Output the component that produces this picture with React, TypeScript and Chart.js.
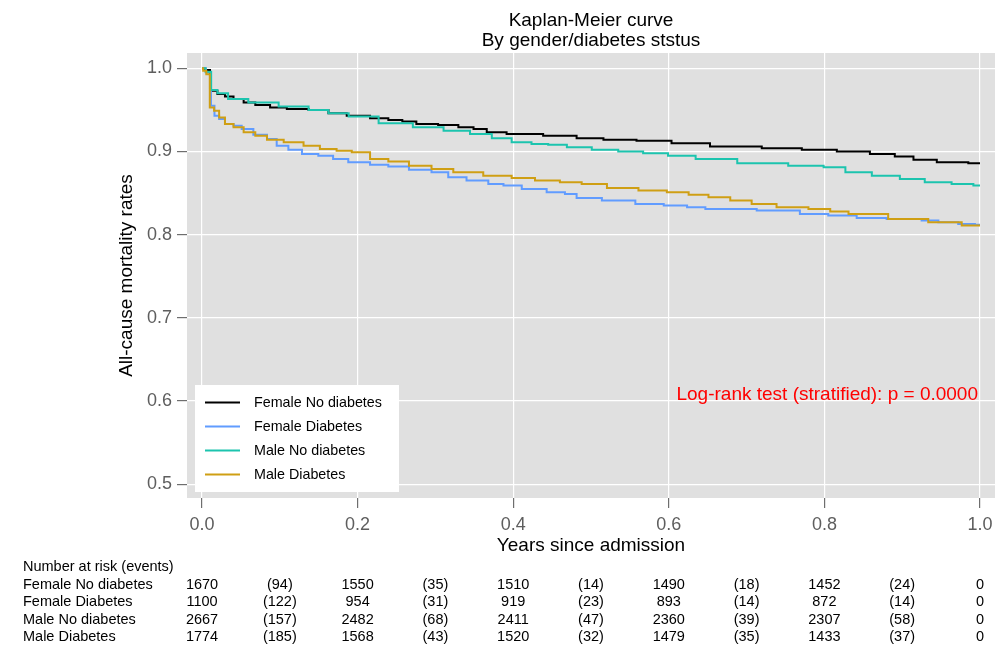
import React, { useEffect, useRef } from "react";
import { Chart, registerables } from "chart.js";

Chart.register(...registerables);

const FONT = "'Liberation Sans', Arial, Helvetica, sans-serif";

// ---- Survival curves (time in years, survival probability) ----
const femaleNoDiabetesTime = [0, 0.006, 0.0145, 0.025, 0.034, 0.047, 0.06, 0.077, 0.098, 0.12, 0.154, 0.171, 0.201, 0.231, 0.248, 0.267, 0.284, 0.323, 0.336, 0.362, 0.37, 0.413, 0.464, 0.499, 0.533, 0.584, 0.623, 0.683, 0.756, 0.786, 0.846, 0.871, 0.91, 0.919, 0.97, 1.0];
const femaleNoDiabetesSurv = [1.0, 0.998, 0.973, 0.969, 0.966, 0.963, 0.959, 0.956, 0.953, 0.951, 0.95, 0.946, 0.943, 0.94, 0.938, 0.936, 0.933, 0.932, 0.929, 0.927, 0.923, 0.921, 0.919, 0.916, 0.914, 0.913, 0.91, 0.906, 0.904, 0.902, 0.9, 0.897, 0.894, 0.89, 0.887, 0.886];

const femaleDiabetesTime = [0, 0.01, 0.013, 0.019, 0.025, 0.034, 0.047, 0.055, 0.077, 0.09, 0.102, 0.12, 0.137, 0.162, 0.175, 0.201, 0.231, 0.248, 0.284, 0.306, 0.327, 0.353, 0.383, 0.392, 0.43, 0.456, 0.477, 0.486, 0.542, 0.572, 0.615, 0.632, 0.662, 0.764, 0.773, 0.837, 0.846, 0.914, 0.936, 0.957, 0.987, 1.0];
const femaleDiabetesSurv = [1.0, 0.995, 0.955, 0.943, 0.939, 0.933, 0.931, 0.927, 0.92, 0.915, 0.907, 0.902, 0.897, 0.895, 0.891, 0.887, 0.884, 0.882, 0.878, 0.875, 0.869, 0.865, 0.861, 0.859, 0.855, 0.851, 0.849, 0.844, 0.841, 0.837, 0.835, 0.833, 0.831, 0.829, 0.825, 0.823, 0.82, 0.819, 0.817, 0.815, 0.813, 0.812];

const maleNoDiabetesTime = [0, 0.009, 0.0145, 0.025, 0.042, 0.077, 0.12, 0.154, 0.171, 0.206, 0.248, 0.294, 0.327, 0.362, 0.383, 0.413, 0.434, 0.456, 0.482, 0.52, 0.55, 0.584, 0.614, 0.655, 0.721, 0.786, 0.812, 0.842, 0.88, 0.914, 0.944, 0.983, 1.0];
const maleNoDiabetesSurv = [1.0, 0.996, 0.974, 0.97, 0.963, 0.959, 0.954, 0.95, 0.946, 0.942, 0.934, 0.929, 0.925, 0.921, 0.916, 0.911, 0.909, 0.908, 0.905, 0.902, 0.9, 0.898, 0.895, 0.891, 0.886, 0.883, 0.881, 0.875, 0.871, 0.867, 0.863, 0.861, 0.859];

const maleDiabetesTime = [0, 0.003, 0.008, 0.012, 0.019, 0.025, 0.034, 0.047, 0.06, 0.077, 0.09, 0.12, 0.141, 0.162, 0.184, 0.201, 0.231, 0.248, 0.284, 0.306, 0.34, 0.383, 0.413, 0.443, 0.477, 0.499, 0.542, 0.58, 0.615, 0.636, 0.666, 0.692, 0.721, 0.756, 0.803, 0.812, 0.85, 0.914, 0.953, 1.0];
const maleDiabetesSurv = [1.0, 0.997, 0.993, 0.953, 0.949, 0.941, 0.933, 0.929, 0.923, 0.919, 0.914, 0.911, 0.907, 0.903, 0.901, 0.899, 0.891, 0.888, 0.883, 0.879, 0.875, 0.871, 0.868, 0.865, 0.863, 0.861, 0.856, 0.853, 0.851, 0.848, 0.845, 0.841, 0.837, 0.833, 0.831, 0.828, 0.825, 0.819, 0.815, 0.811];

const seriesNames = ["Female No diabetes", "Female Diabetes", "Male No diabetes", "Male Diabetes"];
const seriesColors = ["#000000", "#619CFF", "#1CC4AE", "#CF9F14"];

// ---- Axes ----
const xTicks = [0, 0.2, 0.4, 0.6, 0.8, 1.0];
const yTicks = [0.5, 0.6, 0.7, 0.8, 0.9, 1.0];
const xMin = -0.0193;
const xMax = 1.0193;
const yMin = 0.4835;
const yMax = 1.0184;

// ---- Number at risk table ----
const riskTimes = [0, 0.2, 0.4, 0.6, 0.8, 1.0];
const eventTimes = [0.1, 0.3, 0.5, 0.7, 0.9];
const femaleNoDiabetesRisk = [1670, 1550, 1510, 1490, 1452, 0];
const femaleNoDiabetesEvents = [94, 35, 14, 18, 24];
const femaleDiabetesRisk = [1100, 954, 919, 893, 872, 0];
const femaleDiabetesEvents = [122, 31, 23, 14, 14];
const maleNoDiabetesRisk = [2667, 2482, 2411, 2360, 2307, 0];
const maleNoDiabetesEvents = [157, 68, 47, 39, 58];
const maleDiabetesRisk = [1774, 1568, 1520, 1479, 1433, 0];
const maleDiabetesEvents = [185, 43, 32, 35, 37];

const titleLines = ["Kaplan-Meier curve", "By gender/diabetes ststus"];
const xTitle = "Years since admission";
const yTitle = "All-cause mortality rates";
const testLabel = "Log-rank test (stratified): p = 0.0000";
const riskHeader = "Number at risk (events)";

export default function App() {
  const ref = useRef<HTMLCanvasElement>(null);

  useEffect(() => {
    const canvas = ref.current;
    if (!canvas) return;

    const mk = (t: number[], s: number[]) => t.map((x, i) => ({ x, y: s[i] }));
    const curves = [
      mk(femaleNoDiabetesTime, femaleNoDiabetesSurv),
      mk(femaleDiabetesTime, femaleDiabetesSurv),
      mk(maleNoDiabetesTime, maleNoDiabetesSurv),
      mk(maleDiabetesTime, maleDiabetesSurv),
    ];
    const riskRows = [
      [femaleNoDiabetesRisk, femaleNoDiabetesEvents],
      [femaleDiabetesRisk, femaleDiabetesEvents],
      [maleNoDiabetesRisk, maleNoDiabetesEvents],
      [maleDiabetesRisk, maleDiabetesEvents],
    ];

    const bgPlugin = {
      id: "panelBg",
      beforeDraw(chart: any) {
        const { ctx, chartArea: a } = chart;
        ctx.save();
        ctx.fillStyle = "#E0E0E0";
        ctx.fillRect(a.left, a.top, a.right - a.left, a.bottom - a.top);
        ctx.restore();
      },
    };

    const overlayPlugin = {
      id: "overlay",
      afterDraw(chart: any) {
        const { ctx, chartArea: a } = chart;
        const xs = chart.scales.x;
        const cx = (a.left + a.right) / 2;
        const cy = (a.top + a.bottom) / 2;
        ctx.save();

        // Title
        ctx.fillStyle = "#000";
        ctx.font = `19px ${FONT}`;
        ctx.textAlign = "center";
        ctx.textBaseline = "alphabetic";
        ctx.fillText(titleLines[0], cx, 26);
        ctx.fillText(titleLines[1], cx, 45.5);

        // Axis titles
        ctx.fillText(xTitle, cx, 551);
        ctx.save();
        ctx.translate(132, cy);
        ctx.rotate(-Math.PI / 2);
        ctx.fillText(yTitle, 0, 0);
        ctx.restore();

        // Log-rank text
        ctx.fillStyle = "#FF0000";
        ctx.textAlign = "right";
        ctx.fillText(testLabel, 978, 400);

        // Legend
        ctx.fillStyle = "#FFFFFF";
        ctx.fillRect(195, 385, 204, 107);
        const rowsY = [402.5, 426.5, 450.5, 474.5];
        ctx.font = `14.3px ${FONT}`;
        ctx.textAlign = "left";
        ctx.textBaseline = "middle";
        seriesNames.forEach((n, i) => {
          ctx.strokeStyle = seriesColors[i];
          ctx.lineWidth = 2;
          ctx.beginPath();
          ctx.moveTo(205, rowsY[i]);
          ctx.lineTo(240, rowsY[i]);
          ctx.stroke();
          ctx.fillStyle = "#000";
          ctx.fillText(n, 254, rowsY[i] + 1);
        });

        // Risk table
        ctx.font = `14.5px ${FONT}`;
        ctx.fillStyle = "#000";
        ctx.textAlign = "left";
        ctx.fillText(riskHeader, 23, 566.5);
        const tableY = [584.5, 602, 619.5, 637];
        riskRows.forEach((row, i) => {
          const y = tableY[i];
          ctx.textAlign = "left";
          ctx.fillText(seriesNames[i], 23, y);
          ctx.textAlign = "center";
          (row[0] as number[]).forEach((v, j) => {
            ctx.fillText(String(v), xs.getPixelForValue(riskTimes[j]), y);
          });
          (row[1] as number[]).forEach((v, j) => {
            ctx.fillText(`(${v})`, xs.getPixelForValue(eventTimes[j]), y);
          });
        });

        ctx.restore();
      },
    };

    const tickFont = { family: FONT, size: 18 };

    const chart = new Chart(canvas, {
      type: "line",
      data: {
        datasets: seriesNames.map((name, i) => ({
          label: name,
          data: curves[i],
          borderColor: seriesColors[i],
          backgroundColor: seriesColors[i],
          borderWidth: 2,
          pointRadius: 0,
          stepped: "middle" as const,
          fill: false,
          order: 4 - i,
        })),
      },
      options: {
        responsive: false,
        animation: false,
        devicePixelRatio: 1,
        layout: { padding: { left: 0, top: 53, right: 11, bottom: 110 } },
        plugins: {
          legend: { display: false },
          title: { display: false },
          tooltip: { enabled: false },
        },
        scales: {
          x: {
            type: "linear",
            min: xMin,
            max: xMax,
            afterBuildTicks: (s: any) => {
              s.ticks = xTicks.map((v) => ({ value: v }));
            },
            afterFit: (s: any) => {
              s.height = 40;
              s.paddingLeft = 0;
              s.paddingRight = 0;
            },
            border: { display: false },
            grid: { color: "#FFFFFF", lineWidth: 1.2, tickColor: "#6E6E6E", tickLength: 10, drawTicks: true },
            ticks: {
              color: "#5E5E5E",
              font: tickFont,
              padding: 6,
              maxRotation: 0,
              autoSkip: false,
              callback: (v: any) => Number(v).toFixed(1),
            },
          },
          y: {
            type: "linear",
            min: yMin,
            max: yMax,
            afterBuildTicks: (s: any) => {
              s.ticks = yTicks.map((v) => ({ value: v }));
            },
            afterFit: (s: any) => {
              s.width = 187;
              s.paddingTop = 0;
              s.paddingBottom = 0;
            },
            border: { display: false },
            grid: { color: "#FFFFFF", lineWidth: 1.2, tickColor: "#6E6E6E", tickLength: 10, drawTicks: true },
            ticks: {
              color: "#5E5E5E",
              font: tickFont,
              padding: 5,
              autoSkip: false,
              callback: (v: any) => Number(v).toFixed(1),
            },
          },
        },
      },
      plugins: [bgPlugin, overlayPlugin],
    } as any);

    return () => chart.destroy();
  }, []);

  return (
    <div style={{ position: "fixed", left: 0, top: 0, width: 1006, height: 648, background: "#FFFFFF" }}>
      <canvas ref={ref} width={1006} height={648} style={{ display: "block", width: 1006, height: 648 }} />
    </div>
  );
}
